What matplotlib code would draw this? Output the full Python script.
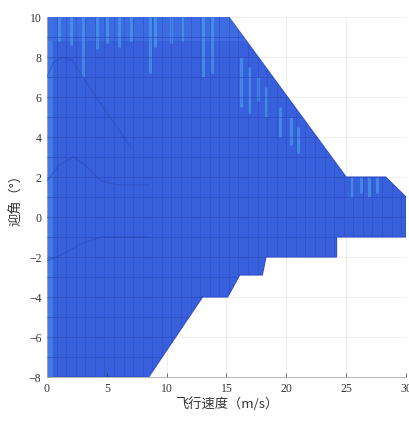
import numpy as np
import matplotlib
matplotlib.use("Agg")
import matplotlib.pyplot as plt
from matplotlib.patches import Polygon

# ---- data ----
# flight envelope boundary (speed m/s, angle of attack deg)
env_speed = [0, 0, 15.2, 25.0, 28.3, 30.0, 30.0, 24.2, 24.2, 18.3, 18.0, 16.1, 15.1, 13.0, 8.5]
env_angle = [-8, 10, 10, 2.0, 2.0, 1.0, -1.0, -1.0, -2.0, -2.0, -2.9, -2.9, -4.0, -4.0, -8]

# light (higher-value) streaks: x position, angle range
streak_x =      [1.0, 2.0, 3.0, 4.2, 5.0, 6.0, 7.0, 8.6, 9.0, 10.4, 11.3, 13.0, 13.8, 16.2, 16.9, 17.6, 18.3, 19.5, 20.4, 21.0, 25.5, 26.2, 26.9, 27.6]
streak_top =    [10, 10, 10, 10, 10, 10, 10, 10, 10, 10, 10, 10, 10, 8.0, 7.5, 7.0, 6.5, 5.5, 5.0, 4.5, 2.0, 2.0, 2.0, 2.0]
streak_bottom = [8.8, 8.6, 7.0, 8.4, 8.7, 8.5, 8.8, 7.2, 8.5, 8.7, 8.8, 7.0, 7.2, 5.5, 5.2, 5.8, 5.0, 4.0, 3.6, 3.2, 1.0, 1.2, 1.0, 1.2]

# inner boundary traces (faint mesh edges of nested surfaces)
inner1_x = [0, 0.5, 1.25, 2.1, 3.0, 4.2, 5.5, 7.0]
inner1_y = [7.0, 7.7, 8.0, 7.85, 7.0, 5.9, 4.8, 3.5]
inner2_x = [0, 1.0, 2.2, 3.2, 4.5, 6.0, 8.5]
inner2_y = [1.8, 2.6, 3.0, 2.6, 1.8, 1.6, 1.6]
inner3_x = [0, 1.5, 3.0, 4.5, 8.5]
inner3_y = [-2.2, -1.8, -1.3, -1.0, -1.0]

x_ticks = [0, 5, 10, 15, 20, 25, 30]
y_ticks = [-8, -6, -4, -2, 0, 2, 4, 6, 8, 10]
x_label = "飞行速度（m/s）"
y_label = "迎角（°）"

plt.rcParams['font.family'] = ['Liberation Serif', 'Noto Sans CJK SC', 'DejaVu Sans']

fig = plt.figure(figsize=(4.10, 4.21), dpi=100)
ax = fig.add_axes([0.1146, 0.1045, 0.8756, 0.855])
ax.set_xlim(0, 30)
ax.set_ylim(-8, 10)

# light grid
for xv in x_ticks:
    ax.axvline(xv, color='#ececec', lw=0.6, zorder=0)
for yv in y_ticks:
    ax.axhline(yv, color='#ececec', lw=0.6, zorder=0)

env = Polygon(np.column_stack([env_speed, env_angle]), closed=True,
              facecolor='#3960dc', edgecolor='#3050c8', lw=0.8, zorder=1)
ax.add_patch(env)

clip = Polygon(np.column_stack([env_speed, env_angle]), closed=True,
               transform=ax.transData, facecolor='none', edgecolor='none')

arts = []
# brighter leftmost band and slightly lighter top band
arts.append(ax.axvspan(0, 0.5, color='#3e7ae8', lw=0, zorder=2))
arts.append(ax.axhspan(8.8, 10, color='#3f6ee4', lw=0, zorder=2, alpha=0.8))
# light streaks
for sx, st, sb in zip(streak_x, streak_top, streak_bottom):
    ln, = ax.plot([sx, sx], [sb, st], color='#48a4f0', lw=2.2, alpha=0.6,
                  solid_capstyle='butt', zorder=2)
    arts.append(ln)

# mesh grid lines
for xv in np.arange(0.8, 30, 0.8):
    ln = ax.axvline(xv, color='#2b46b2', lw=0.55, alpha=0.55, zorder=3)
    arts.append(ln)
for yv in np.arange(-7, 10, 1.0):
    ln = ax.axhline(yv, color='#2b46b2', lw=0.6, alpha=0.65, zorder=3)
    arts.append(ln)
for ix, iy in [(inner1_x, inner1_y), (inner2_x, inner2_y), (inner3_x, inner3_y)]:
    ln, = ax.plot(ix, iy, color='#2b46b2', lw=0.8, alpha=0.55, zorder=3)
    arts.append(ln)

for a in arts:
    a.set_clip_path(clip)

ax.set_xticks(x_ticks)
ax.set_yticks(y_ticks)
ax.tick_params(direction='in', length=3, width=0.5, labelsize=8.5,
               colors='#333333', pad=4)
for s in ['top', 'right']:
    ax.spines[s].set_visible(False)
for s in ['left', 'bottom']:
    ax.spines[s].set_color('#aaaaaa')
    ax.spines[s].set_linewidth(0.6)

ax.set_xlabel(x_label, fontsize=9.5, color='#333333',
              family=['Noto Sans CJK SC', 'DejaVu Sans'], labelpad=2)
ax.set_ylabel(y_label, fontsize=9.5, color='#333333',
              family=['Noto Sans CJK SC', 'DejaVu Sans'], labelpad=4)

fig.savefig('out.png', dpi=100)
